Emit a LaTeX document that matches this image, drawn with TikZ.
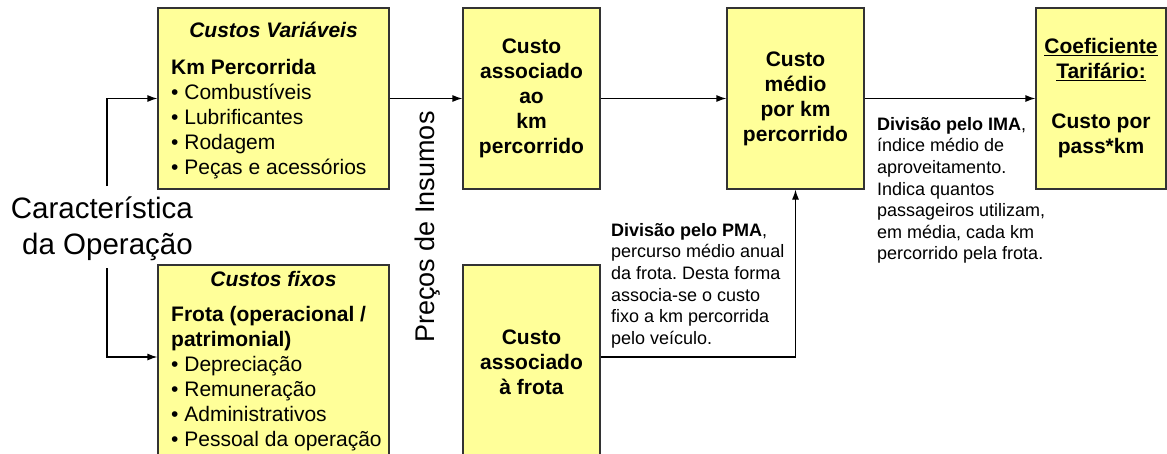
\documentclass[tikz,border=0pt]{standalone}
\usepackage{fontspec}
\setmainfont{Liberation Sans}
\frenchspacing
\usetikzlibrary{positioning}
\usetikzlibrary{arrows.meta}
\definecolor{boxyellow}{HTML}{FFFF99}
\tikzset{
    costbox/.style = {rectangle, line width=1.2pt, draw=black!80, fill=boxyellow, inner sep=0pt, minimum width=137pt, minimum height=181pt, align=center, font=\bfseries\fontsize{21}{25}\selectfont},
    boxtitle/.style = {inner sep=0pt, anchor=base, font=\bfseries\itshape\fontsize{21}{25}\selectfont},
    listtext/.style = {inner sep=0pt, anchor=north west, align=left, font=\fontsize{21}{25}\selectfont},
    note/.style = {inner sep=0pt, anchor=north west, align=left, font=\fontsize{18}{21.6}\selectfont},
    flow/.style = {-{Latex[length=10pt,width=7pt]}, line width=1.2pt},
}
\begin{document}
\begin{tikzpicture}[x=1pt,y=-1pt]
\useasboundingbox (0,0) rectangle (1167,453);
\clip (0,0) rectangle (1167,453);
%
\node[costbox, minimum width=231pt] at (273.5,98.5) (custovar) {};
\node[costbox, minimum width=231pt, minimum height=195pt] at (273.5,362.5) (custofix) {};
\node[costbox] at (531.5,98.5) (assockm) {Custo\\associado\\ao\\km\\percorrido};
\node[costbox, minimum height=195pt] at (531.5,362.5) (assocfrota) {Custo\\associado\\à frota};
\node[costbox] at (795.5,98.5) (medio) {Custo\\médio\\por km\\percorrido};
\node[costbox, minimum width=130pt] at (1101,98.5) (coef) {\underline{Coeficiente}\\\underline{Tarifário:}\\[25pt]Custo por\\pass*km};
%
\node[boxtitle] at (273.5,37) (vartitle) {Custos Variáveis};
\node[listtext] at (171,59) (varlist) {\textbf{Km Percorrida}\\• Combustíveis\\• Lubrificantes\\• Rodagem\\• Peças e acessórios};
\node[boxtitle] at (273.5,286) (fixtitle) {Custos fixos};
\node[listtext] at (171,306) (fixlist) {\textbf{Frota (operacional /}\\\textbf{patrimonial)}\\• Depreciação\\• Remuneração\\• Administrativos\\• Pessoal da operação};
%
\node[inner sep=0pt, anchor=east, align=right, font=\fontsize{29.5}{36}\selectfont] at (193,229) (carac) {Característica\\da Operação};
\node[inner sep=0pt, rotate=90, font=\fontsize{27}{32}\selectfont] at (428,227) (precos) {Preços de Insumos};
\node[note] at (611,223) (notepma) {\textbf{Divisão pelo PMA},\\percurso médio anual\\da frota. Desta forma\\associa-se o custo\\fixo a km percorrida\\pelo veículo.};
\node[note] at (877,117) (noteima) {\textbf{Divisão pelo IMA},\\índice médio de\\aproveitamento.\\Indica quantos\\passageiros utilizam,\\em média, cada km\\percorrido pela frota.};
%
\coordinate (cup) at (107,186);
\coordinate (cdown) at (107,268);
%
\draw[flow] (cup) |- (custovar.west);
\draw[flow] (cdown) |- ([yshift=5.5pt]custofix.west);
\draw[flow] (custovar) edge (assockm);
\draw[flow] (assockm) edge (medio);
\draw[flow] (medio) edge (coef);
\draw[flow] ([yshift=5.5pt]assocfrota.east) -| (medio.south);

\end{tikzpicture}
\end{document}
